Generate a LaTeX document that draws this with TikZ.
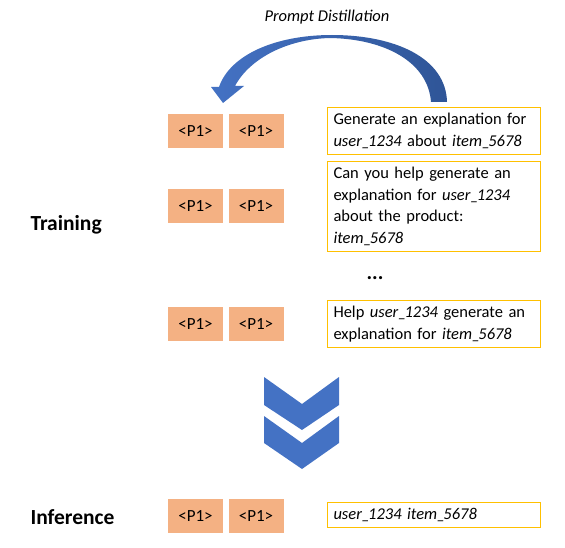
\documentclass[tikz,border=0pt]{standalone}
\usepackage{fontspec}
\setmainfont{Carlito}
\usepackage{xcolor}
\usepackage{tikz}
\definecolor{promptorange}{HTML}{F4B183}
\definecolor{boxgold}{HTML}{FFC000}
\definecolor{arrowblue}{HTML}{4472C4}
\definecolor{arrowdark}{HTML}{2F5597}
\newcommand{\usc}{\_\kern-2pt}

\begin{document}
\begin{tikzpicture}[x=1pt,y=-1pt,
	prompt/.style={shape=rectangle,fill=promptorange,inner sep=0pt,minimum width=55pt,minimum height=34pt,font=\fontsize{17}{20}\selectfont},
	textbox/.style={shape=rectangle,draw=boxgold,line width=1.2pt,align=left,text width=201pt,inner xsep=6pt,inner ysep=6pt,font=\fontsize{16.5}{21.5}\selectfont},
	phase/.style={font=\fontsize{21.5}{25}\selectfont\bfseries}]
			\useasboundingbox (0,0) rectangle (565,548);

			\node[font=\fontsize{16.5}{20}\selectfont\itshape] (title) at (327,17) {Prompt Distillation};

			\node[phase, anchor=west] (train) at (27,225) {Training};
			\node[phase, anchor=west] (infer) at (27,517) {Inference};

			\node[prompt] (p11) at (195.5,131) {<P1>};
			\node[prompt] (p12) at (256,131) {<P1>};
			\node[prompt] (p21) at (195.5,206.5) {<P1>};
			\node[prompt] (p22) at (256,206.5) {<P1>};
			\node[prompt] (p31) at (195.5,324) {<P1>};
			\node[prompt] (p32) at (256,324) {<P1>};
			\node[prompt] (p41) at (195.5,516) {<P1>};
			\node[prompt] (p42) at (256,516) {<P1>};

			\node[textbox] (t1) at (434,131) {Generate an explanation for\\\textit{user\usc1234} about \textit{item\usc5678}};
			\node[textbox] (t2) at (434,206.5) {Can you help generate an\\explanation for \textit{user\usc1234}\\about the product:\\\textit{item\usc5678}};
			\node[font=\fontsize{21}{24}\selectfont\bfseries] (dots) at (375,278) {...};
			\node[textbox] (t3) at (434,324) {Help \textit{user\usc1234} generate an\\explanation for \textit{item\usc5678}};
			\node[textbox] (t4) at (434,515) {\textit{user\usc1234 item\usc5678}};

			%% arrows
			\shade[left color=arrowblue, right color=arrowdark]
				(447,102) .. controls (446,58) and (395,35) .. (332,35)
				.. controls (275,35) and (230,55) .. (219,87)
				-- (211,87) -- (223,103) -- (244,86) -- (235,86)
				.. controls (250,58) and (288,39) .. (330,38)
				.. controls (385,39) and (428,62) .. (431,102) -- cycle;
			\fill[arrowblue] (264,377) -- (302,404) -- (339,377) -- (339,405) -- (302,430) -- (264,405) -- cycle;
			\fill[arrowblue] (264,416) -- (302,443) -- (339,416) -- (339,443) -- (302,469) -- (264,443) -- cycle;
		\end{tikzpicture}
\end{document}
